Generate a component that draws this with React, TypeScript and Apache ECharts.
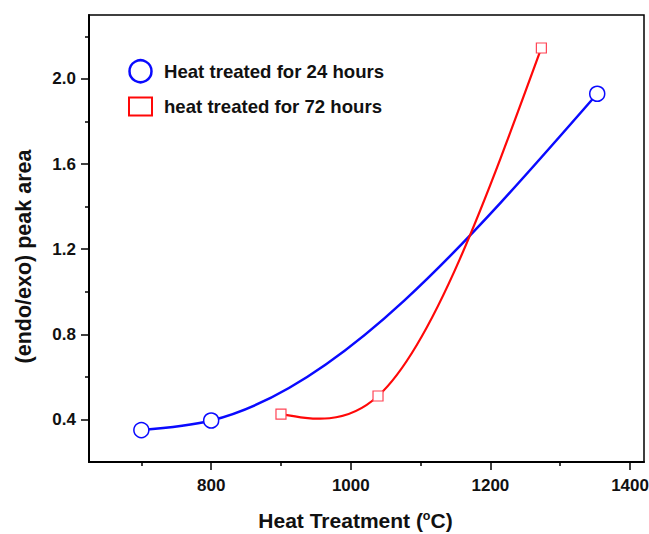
import React, { useEffect, useRef } from "react";
import * as echarts from "echarts";

// ---- data ----
const temps24 = [700, 800, 1353];
const area24 = [0.35, 0.395, 1.93];
const temps72 = [900, 1039, 1273];
const area72 = [0.425, 0.51, 2.145];

const name24 = "Heat treated for 24 hours";
const name72 = "heat treated for 72 hours";

const xMajorTicks = [800, 1000, 1200, 1400];
const xMinorTicks = [700, 900, 1100, 1300];
const yMajorTicks = [0.4, 0.8, 1.2, 1.6, 2.0];
const yMinorTicks = [0.6, 1.0, 1.4, 1.8, 2.2];

const FONT = "'Liberation Sans', Arial, Helvetica, sans-serif";
const BLUE = "#0a0aff";
const RED = "#ff0808";

// natural cubic spline -> bezier segments (data space)
function splineSegments(xs: number[], ys: number[]) {
  const n = xs.length;
  const h: number[] = [];
  for (let i = 0; i < n - 1; i++) h.push(xs[i + 1] - xs[i]);
  const M = new Array(n).fill(0);
  if (n > 2) {
    const m = n - 2;
    const a: number[] = [], b: number[] = [], c: number[] = [], d: number[] = [];
    for (let k = 1; k <= m; k++) {
      a.push(h[k - 1]);
      b.push(2 * (h[k - 1] + h[k]));
      c.push(h[k]);
      d.push(6 * ((ys[k + 1] - ys[k]) / h[k] - (ys[k] - ys[k - 1]) / h[k - 1]));
    }
    for (let k = 1; k < m; k++) {
      const w = a[k] / b[k - 1];
      b[k] -= w * c[k - 1];
      d[k] -= w * d[k - 1];
    }
    const sol = new Array(m).fill(0);
    sol[m - 1] = d[m - 1] / b[m - 1];
    for (let k = m - 2; k >= 0; k--) sol[k] = (d[k] - c[k] * sol[k + 1]) / b[k];
    for (let k = 0; k < m; k++) M[k + 1] = sol[k];
  }
  const segs: number[][] = [];
  for (let i = 0; i < n - 1; i++) {
    const s = (ys[i + 1] - ys[i]) / h[i];
    const d0 = s - (h[i] * (2 * M[i] + M[i + 1])) / 6;
    const d1 = s + (h[i] * (M[i] + 2 * M[i + 1])) / 6;
    segs.push([
      xs[i], ys[i],
      xs[i] + h[i] / 3, ys[i] + (d0 * h[i]) / 3,
      xs[i + 1] - h[i] / 3, ys[i + 1] - (d1 * h[i]) / 3,
      xs[i + 1], ys[i + 1],
    ]);
  }
  return segs;
}

function curveSeries(xs: number[], ys: number[], color: string, width: number) {
  const segs = splineSegments(xs, ys);
  return {
    type: "custom",
    silent: true,
    z: 2,
    data: segs.map((s) => [s[0], s[1]]),
    encode: { x: 0, y: 1 },
    renderItem: (params: any, api: any) => {
      const s = segs[params.dataIndex];
      const p0 = api.coord([s[0], s[1]]);
      const p1 = api.coord([s[2], s[3]]);
      const p2 = api.coord([s[4], s[5]]);
      const p3 = api.coord([s[6], s[7]]);
      return {
        type: "bezierCurve",
        shape: {
          x1: p0[0], y1: p0[1],
          cpx1: p1[0], cpy1: p1[1],
          cpx2: p2[0], cpy2: p2[1],
          x2: p3[0], y2: p3[1],
        },
        style: { stroke: color, lineWidth: width, fill: null },
      };
    },
  };
}

export default function App() {
  const ref = useRef<HTMLDivElement>(null);
  useEffect(() => {
    if (!ref.current) return;
    const chart = echarts.init(ref.current, undefined, { renderer: "svg" });
    const labelStyle = {
      fontFamily: FONT,
      fontWeight: "bold" as const,
      fontSize: 17,
      color: "#111",
    };
    chart.setOption({
      animation: false,
      backgroundColor: "#fff",
      grid: {
        left: 89,
        top: 15,
        right: 5,
        bottom: 72,
        outerBoundsMode: "none",
        containLabel: false,
        show: true,
        borderColor: "#000",
        borderWidth: 1.5,
        backgroundColor: "transparent",
      },
      legend: {
        orient: "vertical",
        left: 128,
        top: 59,
        padding: 0,
        itemWidth: 23,
        itemHeight: 22,
        itemGap: 13,
        selectedMode: false,
        textStyle: {
          fontFamily: FONT,
          fontWeight: "bold",
          fontSize: 18.6,
          color: "#111",
          padding: [0, 0, 0, 7],
        },
        data: [
          {
            name: name24,
            icon: "circle",
            itemStyle: { color: "#fff", borderColor: BLUE, borderWidth: 2.5 },
          },
          {
            name: name72,
            icon: "path://M0,0H23V18H0Z",
            itemStyle: { color: "#fff", borderColor: RED, borderWidth: 2 },
          },
        ],
      },
      xAxis: [
        {
          type: "value",
          min: 625,
          max: 1420,
          position: "bottom",
          name: "{a|Heat Treatment (}{s|o}{a|C)}",
          nameLocation: "middle",
          nameGap: 47,
          nameTextStyle: {
            padding: [0, 22, 0, 0],
            rich: {
              a: { fontFamily: FONT, fontWeight: "bold", fontSize: 21, color: "#111" },
              s: {
                fontFamily: FONT,
                fontWeight: "bold",
                fontSize: 12.5,
                color: "#111",
                padding: [0, 0, 9, 0],
              },
            },
          },
          axisLine: { show: true, lineStyle: { color: "#000", width: 2 } },
          axisTick: {
            show: true,
            inside: false,
            length: 8,
            lineStyle: { color: "#000", width: 1.5 },
            customValues: xMajorTicks,
          },
          axisLabel: {
            ...labelStyle,
            margin: 15,
            customValues: xMajorTicks,
            formatter: (v: number) => String(v),
          },
          splitLine: { show: false },
        },
        {
          type: "value",
          min: 625,
          max: 1420,
          position: "bottom",
          axisLine: { show: false },
          axisTick: {
            show: true,
            inside: false,
            length: 4,
            lineStyle: { color: "#000", width: 1.5 },
            customValues: xMinorTicks,
          },
          axisLabel: { show: false },
          splitLine: { show: false },
        },
      ],
      yAxis: [
        {
          type: "value",
          min: 0.2,
          max: 2.3,
          position: "left",
          name: "(endo/exo) peak area",
          nameLocation: "middle",
          nameRotate: 90,
          nameGap: 54,
          nameTextStyle: {
            fontFamily: FONT,
            fontWeight: "bold",
            fontSize: 21.5,
            color: "#111",
            padding: [0, 36, 0, 0],
          },
          axisLine: { show: true, lineStyle: { color: "#000", width: 2 } },
          axisTick: {
            show: true,
            inside: false,
            length: 8,
            lineStyle: { color: "#000", width: 1.5 },
            customValues: yMajorTicks,
          },
          axisLabel: {
            ...labelStyle,
            margin: 13,
            customValues: yMajorTicks,
            formatter: (v: number) => v.toFixed(1),
          },
          splitLine: { show: false },
        },
        {
          type: "value",
          min: 0.2,
          max: 2.3,
          position: "left",
          axisLine: { show: false },
          axisTick: {
            show: true,
            inside: false,
            length: 4,
            lineStyle: { color: "#000", width: 1.5 },
            customValues: yMinorTicks,
          },
          axisLabel: { show: false },
          splitLine: { show: false },
        },
      ],
      series: [
        curveSeries(temps24, area24, BLUE, 2.5),
        curveSeries(temps72, area72, RED, 2.2),
        {
          name: name24,
          type: "scatter",
          z: 5,
          symbol: "circle",
          symbolSize: 15,
          itemStyle: { color: "#fff", borderColor: BLUE, borderWidth: 1.5, opacity: 1 },
          data: temps24.map((t, i) => [t, area24[i]]),
        },
        {
          name: name72,
          type: "scatter",
          z: 5,
          symbol: "rect",
          symbolSize: 10,
          itemStyle: { color: "#fff", borderColor: "#ff4455", borderWidth: 1.2, opacity: 1 },
          data: temps72.map((t, i) => [t, area72[i]]),
        },
      ],
    });
    return () => chart.dispose();
  }, []);
  return (
    <div
      ref={ref}
      style={{ position: "absolute", left: 0, top: 0, width: 649, height: 534 }}
    />
  );
}
